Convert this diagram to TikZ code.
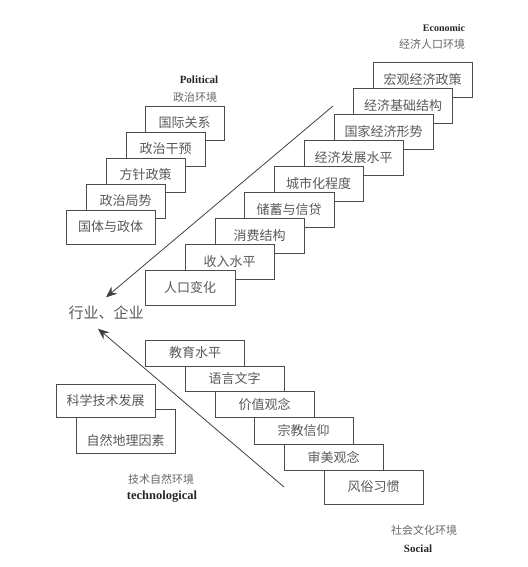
\documentclass[tikz,border=0pt]{standalone}
\usepackage{fontspec}
\setmainfont{Liberation Serif}
\newfontfamily\cjk{Noto Sans CJK SC}
\usepackage{tikz}
\usetikzlibrary{arrows.meta}

\begin{document}
\begin{tikzpicture}[x=1pt, y=-1pt,
    box/.style = {draw=black!70, fill=white, line width=0.8pt, text=black!65, inner sep=0pt,
                  font=\cjk\fontsize{13}{15}\selectfont, minimum width=99pt},
    pbox/.style = {box, minimum width=79pt, minimum height=34pt},
    ebox/.style = {box, minimum height=35pt},
    sbox/.style = {box, minimum height=26pt},
    title/.style = {font=\bfseries\fontsize{11}{13}\selectfont, text=black!85},
    sub/.style = {font=\cjk\fontsize{11}{13}\selectfont, text=black!60},
    arrow/.style = {->, >={Stealth[length=11pt,width=9pt]}, color=black!75, line width=0.8pt}]
    \useasboundingbox (0,0) rectangle (527,567);
    \node[title] (pol) at (199,80) {Political};
    \node[sub] (polcn) at (195,97) {政治环境};
    \node[pbox] (gjgx) at (184.5,123) {国际关系};
    \node[pbox] (zzgy) at (165.5,149) {政治干预};
    \node[pbox] (fzzc) at (145.5,175) {方针政策};
    \node[pbox] (zzjs) at (125.5,201) {政治局势};
    \node[pbox, minimum width=89pt] (gtzt) at (110.5,227) {国体与政体};
    \node[title, font=\bfseries\fontsize{10}{12}\selectfont] (eco) at (444,28) {Economic};
    \node[sub] (ecocn) at (432,44) {经济人口环境};
    \node[ebox] (hgjj) at (422.5,79.5) {宏观经济政策};
    \node[ebox] (jjjc) at (403,105.5) {经济基础结构};
    \node[ebox] (gjjj) at (383.5,131.5) {国家经济形势};
    \node[ebox] (jjfz) at (353.5,157.5) {经济发展水平};
    \node[ebox, minimum width=89pt] (csh) at (318.5,183.5) {城市化程度};
    \node[ebox, minimum width=90pt] (cx) at (289,210) {储蓄与信贷};
    \node[ebox, minimum width=89pt] (xfjg) at (259.5,235.5) {消费结构};
    \node[ebox, minimum width=89pt] (srsp) at (229.5,261.5) {收入水平};
    \node[ebox, minimum width=90pt] (rkbh) at (190,287.5) {人口变化};
    \node[font=\cjk\fontsize{15}{17}\selectfont, text=black!65, inner sep=8.5pt] (hy) at (106,313) {行业、企业};
    \coordinate (econ) at (333,106);
    \coordinate (tech) at (284,487);
    \path[arrow] (econ) edge (hy.north);
    \path[arrow] (tech) edge (hy.243);
    \node[sbox] (jysp) at (195,353) {教育水平};
    \node[sbox, minimum height=25pt] (yywz) at (234.5,378.5) {语言文字};
    \node[sbox] (jzgn) at (264.5,404) {价值观念};
    \node[sbox, minimum height=27pt] (zjxy) at (303.5,430.5) {宗教信仰};
    \node[sbox] (smgn) at (333.5,457) {审美观念};
    \node[sbox, minimum height=34pt] (fsxg) at (373.5,487) {风俗习惯};
    \node[box, text height=36pt, text depth=8pt] (zrdl) at (125.5,431) {自然地理因素};
    \node[box, minimum height=33pt] (kxjs) at (105.5,400.5) {科学技术发展};
    \node[sub] (techcn) at (161,479) {技术自然环境};
    \node[title, font=\bfseries\fontsize{12.5}{14}\selectfont] (techen) at (162,497) {technological};
    \node[sub] (soccn) at (424,530) {社会文化环境};
    \node[title] (soc) at (418,549) {Social};
\end{tikzpicture}
\end{document}
